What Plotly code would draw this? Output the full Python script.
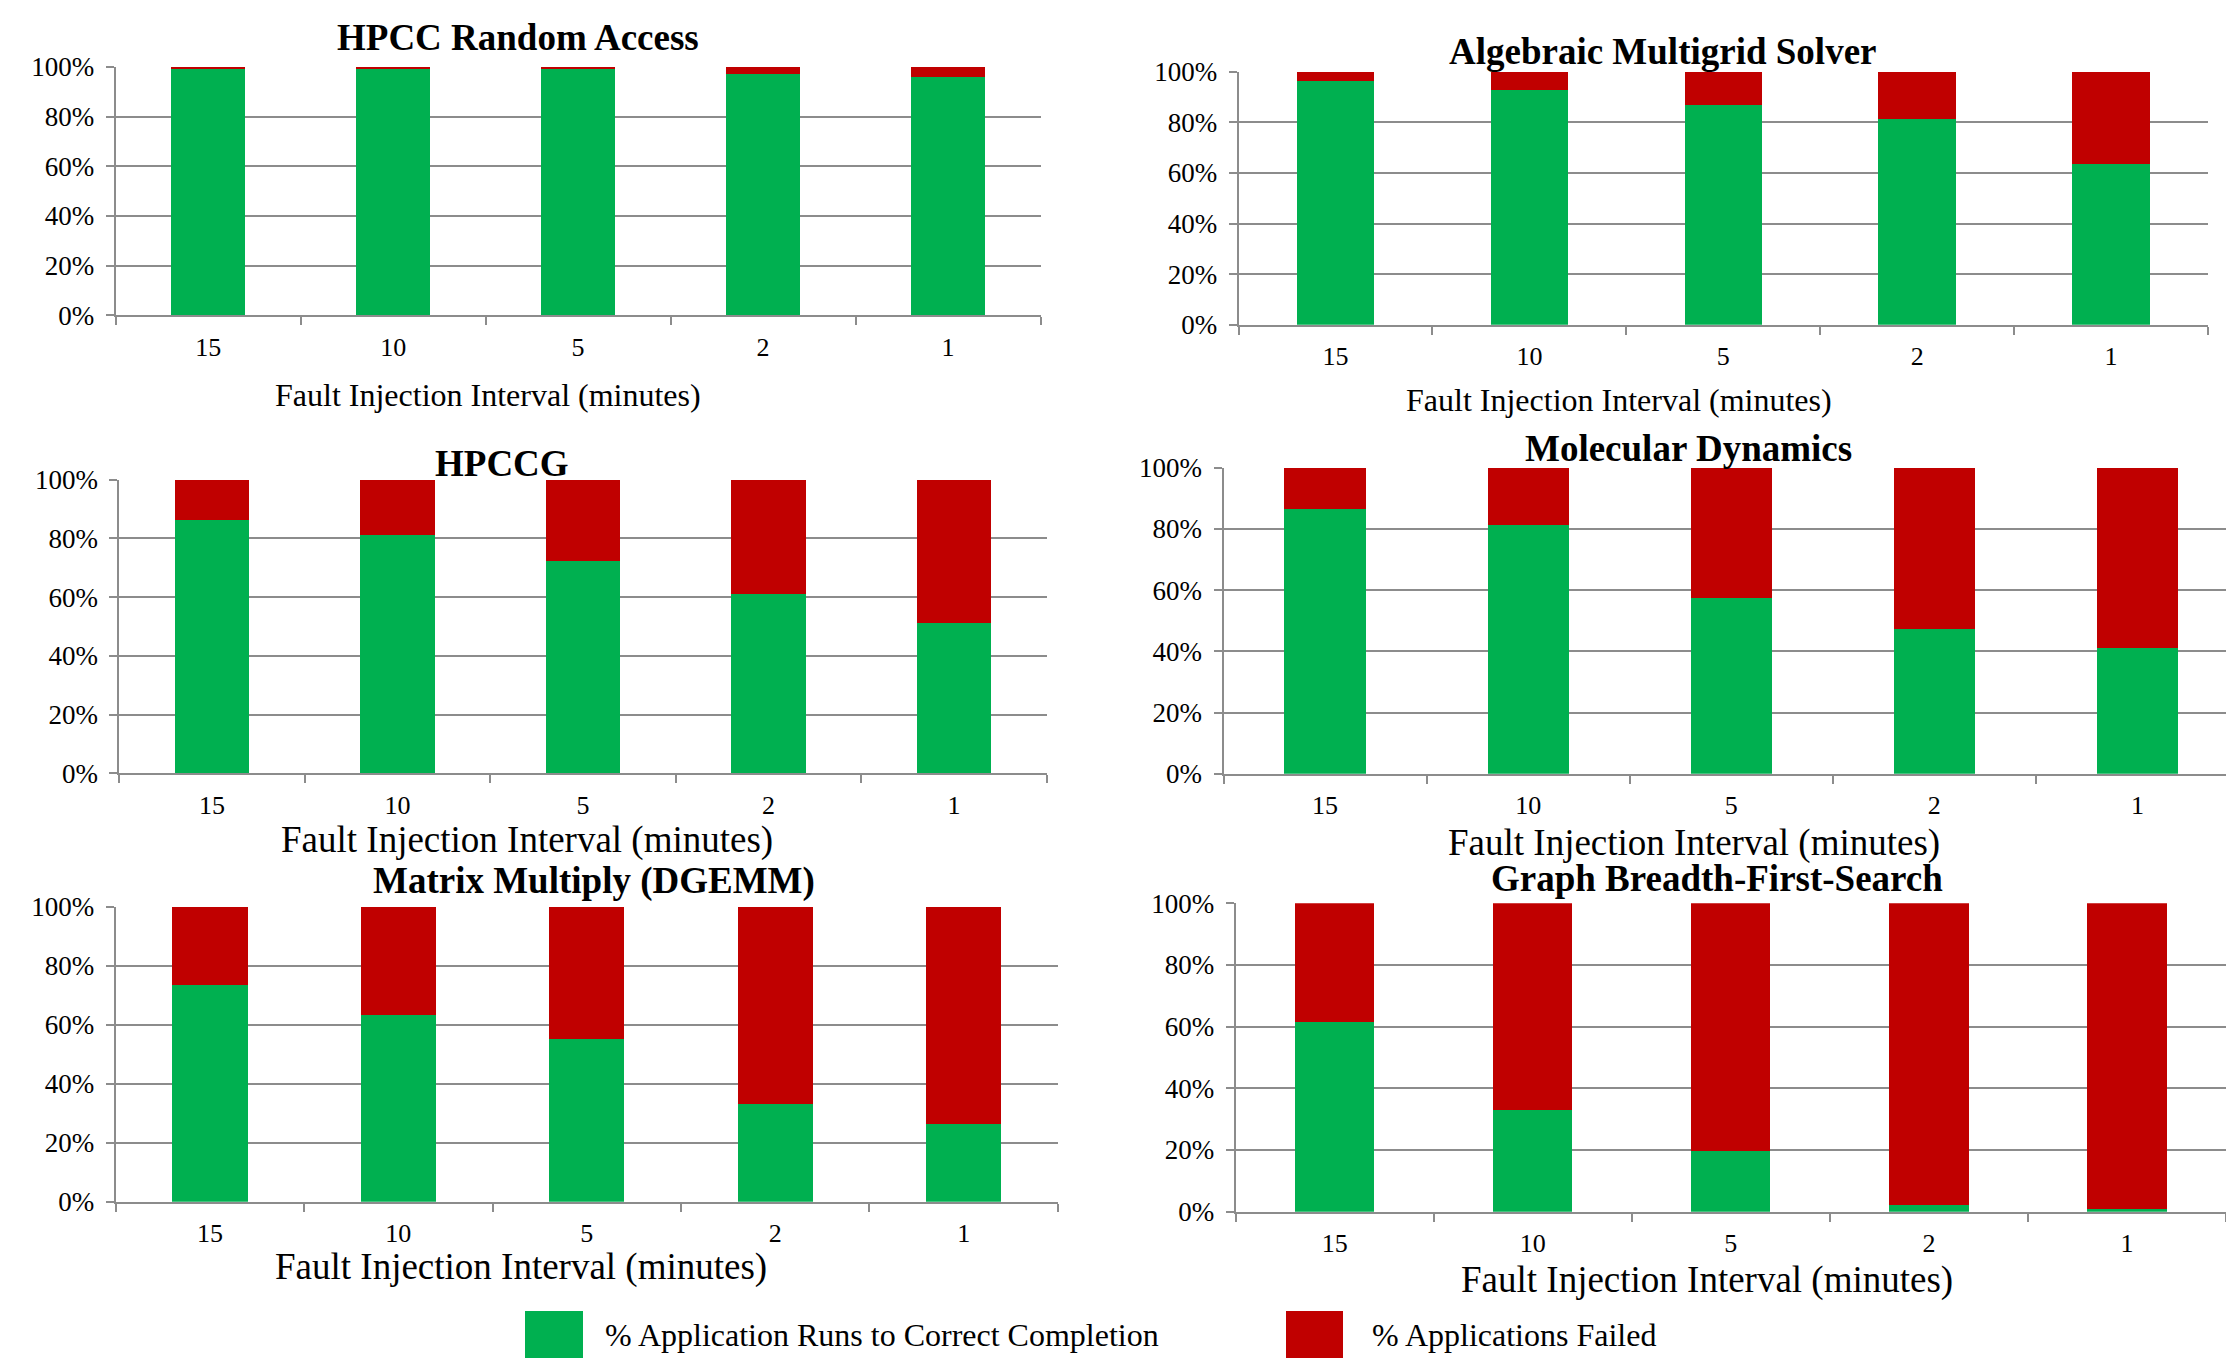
import plotly.graph_objects as go

# Fault injection intervals (minutes), shared by every panel
intervals = ["15", "10", "5", "2", "1"]

# Percent of runs that completed correctly / failed, per application
hpcc_ra_ok = [99.5, 99.2, 99.2, 97.3, 96.0]
hpcc_ra_fail = [0.5, 0.8, 0.8, 2.7, 4.0]

amg_ok = [96.3, 92.8, 86.7, 81.3, 63.4]
amg_fail = [3.7, 7.2, 13.3, 18.7, 36.6]

hpccg_ok = [86.3, 81.3, 72.3, 61.1, 51.2]
hpccg_fail = [13.7, 18.7, 27.7, 38.9, 48.8]

md_ok = [86.4, 81.4, 57.3, 47.2, 41.1]
md_fail = [13.6, 18.6, 42.7, 52.8, 58.9]

dgemm_ok = [73.3, 63.3, 55.3, 33.1, 26.2]
dgemm_fail = [26.7, 36.7, 44.7, 66.9, 73.8]

bfs_ok = [61.4, 32.9, 19.8, 2.2, 0.8]
bfs_fail = [38.6, 67.1, 80.2, 97.8, 99.2]

titles = ["HPCC Random Access", "Algebraic Multigrid Solver", "HPCCG",
          "Molecular Dynamics", "Matrix Multiply (DGEMM)", "Graph Breadth-First-Search"]
x_title = "Fault Injection Interval (minutes)"
legend_labels = ["% Application Runs to Correct Completion", "% Applications Failed"]

GREEN = "#00B050"
RED = "#C00000"
GRID = "#8c8c8c"
FONT = "Liberation Serif, Times New Roman, serif"

W, H = 2226, 1358


def fx(px):
    return px / W


def fy(py):
    return 1 - py / H


series = [
    (hpcc_ra_ok, hpcc_ra_fail),
    (amg_ok, amg_fail),
    (hpccg_ok, hpccg_fail),
    (md_ok, md_fail),
    (dgemm_ok, dgemm_fail),
    (bfs_ok, bfs_fail),
]

# plot-area boxes in pixels: (left, right, top, bottom), x-range upper bound
panels = [
    (115.7, 1040.5, 67.0, 315.3, 4.5),
    (1238.6, 2208.0, 71.7, 324.7, 4.5),
    (119.3, 1046.7, 479.7, 773.3, 4.5),
    (1223.5, 2226.0, 467.7, 773.7, 4.436),
    (115.7, 1057.9, 906.7, 1201.7, 4.5),
    (1235.7, 2226.0, 903.3, 1211.7, 4.5),
]

# title placement (center x, center y, size) and axis-title placement
title_pos = [(518, 37, 37), (1663, 52, 37), (501.6, 463, 37),
             (1688, 449, 37), (593.5, 881, 37), (1717, 878, 37)]
xtitle_pos = [(487.6, 395, 32), (1619, 400, 32), (526.7, 840, 37),
              (1694, 843, 37), (521, 1267, 37), (1707, 1280, 37)]

fig = go.Figure()
layout = dict(
    width=W, height=H,
    margin=dict(l=0, r=0, t=0, b=0, pad=0),
    paper_bgcolor="white", plot_bgcolor="white",
    barmode="stack", bargap=0.6,
    showlegend=False,
    font=dict(family=FONT, color="black"),
)

annotations = []
shapes = []

for i, ((ok, fail), (l, r, t, b, xmax)) in enumerate(zip(series, panels)):
    n = "" if i == 0 else str(i + 1)
    xa, ya = "x" + n, "y" + n
    fig.add_trace(go.Bar(x=intervals, y=ok, marker=dict(color=GREEN, line=dict(width=0)),
                         name=legend_labels[0], xaxis=xa, yaxis=ya))
    fig.add_trace(go.Bar(x=intervals, y=fail, marker=dict(color=RED, line=dict(width=0)),
                         name=legend_labels[1], xaxis=xa, yaxis=ya))
    layout["xaxis" + n] = dict(
        domain=[fx(l), fx(r)], anchor=ya, type="category", automargin=False,
        range=[-0.5, xmax], showgrid=False,
        showline=True, linecolor=GRID, linewidth=2,
        ticks="outside", tickson="boundaries", ticklen=8,
        tickcolor=GRID, tickwidth=2,
        tickfont=dict(size=26, family=FONT, color="black"),
        ticklabelstandoff=7,
    )
    layout["yaxis" + n] = dict(
        domain=[fy(b), fy(t)], anchor=xa, range=[0, 100], automargin=False,
        dtick=20, ticksuffix="%",
        showgrid=True, gridcolor=GRID, gridwidth=2,
        showline=True, linecolor=GRID, linewidth=2,
        ticks="outside", ticklen=8, tickcolor=GRID, tickwidth=2,
        tickfont=dict(size=27, family=FONT, color="black"),
        ticklabelstandoff=6, zeroline=False,
    )
    cx, cy, sz = title_pos[i]
    annotations.append(dict(text="<b>%s</b>" % titles[i], x=fx(cx), y=fy(cy),
                            xref="paper", yref="paper", xanchor="center", yanchor="middle",
                            showarrow=False, font=dict(size=sz, family=FONT, color="black")))
    tx, ty, tsz = xtitle_pos[i]
    annotations.append(dict(text=x_title, x=fx(tx), y=fy(ty),
                            xref="paper", yref="paper", xanchor="center", yanchor="middle",
                            showarrow=False, font=dict(size=tsz, family=FONT, color="black")))

# shared legend along the bottom edge
swatches = [(525, 583, GREEN, 603), (1286, 1343, RED, 1370)]
for (x0, x1, col, tx), label in zip(swatches, legend_labels):
    shapes.append(dict(type="rect", xref="paper", yref="paper",
                       x0=fx(x0), x1=fx(x1), y0=fy(1372), y1=fy(1311),
                       fillcolor=col, line=dict(width=0)))
    annotations.append(dict(text=label, x=fx(tx), y=fy(1335), xref="paper", yref="paper",
                            xanchor="left", yanchor="middle", showarrow=False,
                            font=dict(size=32, family=FONT, color="black")))

layout["annotations"] = annotations
layout["shapes"] = shapes
fig.update_layout(**layout)

fig.write_html("out.html")
